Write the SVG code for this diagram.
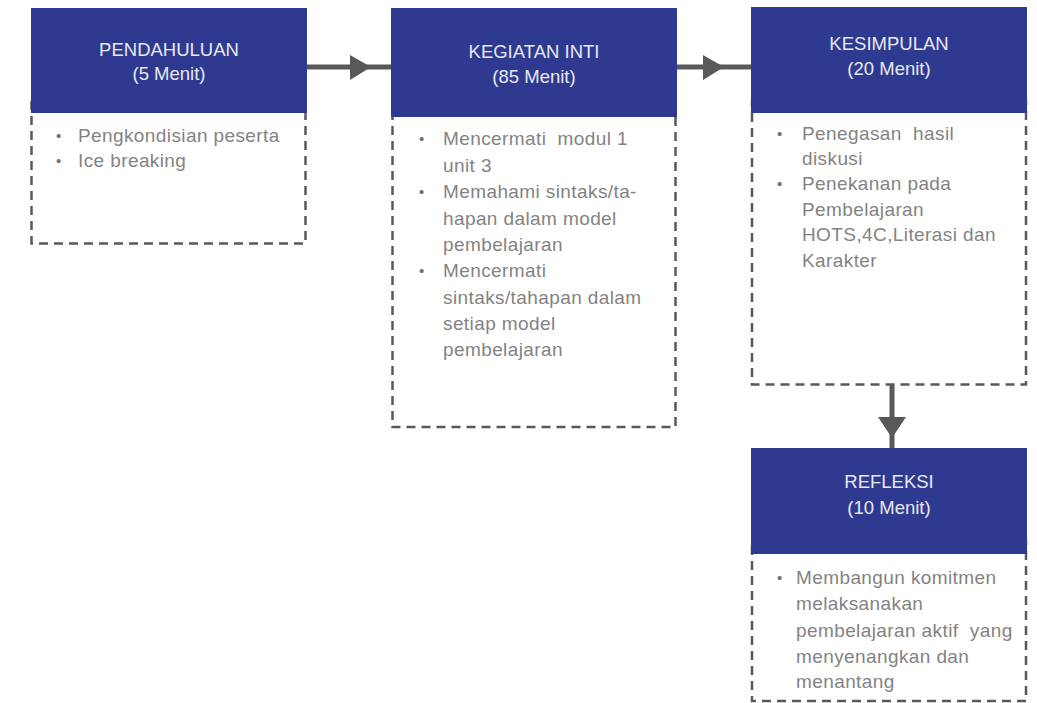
<svg xmlns="http://www.w3.org/2000/svg" width="1037" height="703" viewBox="0 0 1037 703">
  <style>
    .frame { fill: #ffffff; stroke: #595959; stroke-width: 2.5; stroke-dasharray: 9 6; }
    .head { fill: #2E3A8F; }
    .title { font-family: "Liberation Sans", Arial, sans-serif; font-size: 18.5px; fill: #E8E8F2; text-anchor: middle; }
    .item { font-family: "Liberation Sans", Arial, sans-serif; font-size: 19px; letter-spacing: 0.4px; fill: #838383; white-space: pre; }
    .dot { font-family: "Liberation Sans", Arial, sans-serif; font-size: 15px; fill: #707070; }
    .link { stroke: #595959; stroke-width: 5; fill: none; }
    .tip { fill: #595959; }
  </style>

  <!-- connectors between the stages -->
  <g id="connectors">
    <line class="link" x1="306" y1="67" x2="392" y2="67"/>
    <polygon class="tip" points="350,55 371,67 350,80"/>
    <line class="link" x1="676" y1="67" x2="752" y2="67"/>
    <polygon class="tip" points="703,55 724,67 703,80"/>
    <line class="link" x1="892" y1="384" x2="892" y2="450"/>
    <polygon class="tip" points="878,417 906,417 892,438"/>
  </g>

  <!-- stage 1 -->
  <g id="pendahuluan">
    <rect class="frame" x="31.5" y="100" width="274" height="143.5"/>
    <rect class="head" x="31" y="8" width="276" height="105"/>
    <text class="title" x="169" y="56">PENDAHULUAN</text>
    <text class="title" x="169" y="80">(5 Menit)</text>
    <text class="dot" x="56" y="141">•</text>
    <text class="item" x="78" y="142">Pengkondisian peserta</text>
    <text class="dot" x="56" y="166">•</text>
    <text class="item" x="78" y="167">Ice breaking</text>
  </g>

  <!-- stage 2 -->
  <g id="kegiatan-inti">
    <rect class="frame" x="392.5" y="100" width="283" height="327"/>
    <rect class="head" x="391" y="8" width="286" height="109"/>
    <text class="title" x="534" y="58">KEGIATAN INTI</text>
    <text class="title" x="534" y="83">(85 Menit)</text>
    <text class="dot" x="419" y="144">•</text>
    <text class="item" x="443" y="145" xml:space="preserve">Mencermati  modul 1</text>
    <text class="item" x="443" y="172">unit 3</text>
    <text class="dot" x="419" y="197">•</text>
    <text class="item" x="443" y="198">Memahami sintaks/ta-</text>
    <text class="item" x="443" y="225">hapan dalam model</text>
    <text class="item" x="443" y="251">pembelajaran</text>
    <text class="dot" x="419" y="276">•</text>
    <text class="item" x="443" y="277">Mencermati</text>
    <text class="item" x="443" y="304">sintaks/tahapan dalam</text>
    <text class="item" x="443" y="330">setiap model</text>
    <text class="item" x="443" y="356">pembelajaran</text>
  </g>

  <!-- stage 3 -->
  <g id="kesimpulan">
    <rect class="frame" x="752" y="100" width="274" height="284.5"/>
    <rect class="head" x="751" y="7" width="276" height="106"/>
    <text class="title" x="889" y="50">KESIMPULAN</text>
    <text class="title" x="889" y="75">(20 Menit)</text>
    <text class="dot" x="777" y="139">•</text>
    <text class="item" x="802" y="140" xml:space="preserve">Penegasan  hasil</text>
    <text class="item" x="802" y="165">diskusi</text>
    <text class="dot" x="777" y="189">•</text>
    <text class="item" x="802" y="190">Penekanan pada</text>
    <text class="item" x="802" y="216">Pembelajaran</text>
    <text class="item" x="802" y="241">HOTS,4C,Literasi dan</text>
    <text class="item" x="802" y="267">Karakter</text>
  </g>

  <!-- stage 4 -->
  <g id="refleksi">
    <rect class="frame" x="752" y="540" width="274" height="161"/>
    <rect class="head" x="751" y="448" width="276" height="106"/>
    <text class="title" x="889" y="488">REFLEKSI</text>
    <text class="title" x="889" y="514">(10 Menit)</text>
    <text class="dot" x="777" y="583">•</text>
    <text class="item" x="796" y="584">Membangun komitmen</text>
    <text class="item" x="796" y="610">melaksanakan</text>
    <text class="item" x="796" y="637" xml:space="preserve">pembelajaran aktif  yang</text>
    <text class="item" x="796" y="663">menyenangkan dan</text>
    <text class="item" x="796" y="688">menantang</text>
  </g>
</svg>
